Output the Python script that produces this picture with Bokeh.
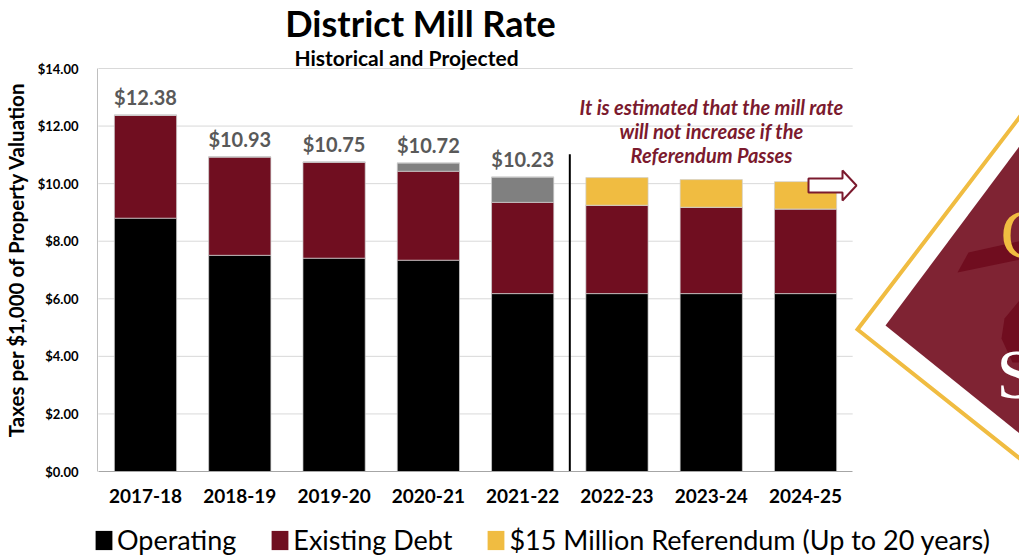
import math
from bokeh.plotting import figure
from bokeh.layouts import column, row
from bokeh.models import (Range1d, FixedTicker, NumeralTickFormatter, Legend, LegendItem,
                          Label, ColumnDataSource)
from bokeh.core.properties import value
from bokeh.embed import file_html
from bokeh.resources import INLINE

# ---------------- data ----------------
categories = ["2017-18", "2018-19", "2019-20", "2020-21", "2021-22",
              "2022-23", "2023-24", "2024-25"]
operating = [8.80, 7.51, 7.41, 7.34, 6.18, 6.18, 6.18, 6.18]
existing_debt = [3.58, 3.42, 3.34, 3.09, 3.17, 3.07, 3.00, 2.94]
other_levy = [0.00, 0.00, 0.00, 0.29, 0.88, 0.00, 0.00, 0.00]   # grey, not in legend
referendum = [0.00, 0.00, 0.00, 0.00, 0.00, 0.96, 0.96, 0.95]
historical_count = 5
labelled_totals = [12.38, 10.93, 10.75, 10.72, 10.23]
y_ticks = [0, 2, 4, 6, 8, 10, 12, 14]
legend_labels = ["Operating", "Existing Debt", "$15 Million Referendum (Up to 20 years)"]
y_title = "Taxes per $1,000 of Property Valuation"

C_OPER = "#000000"
C_DEBT = "#700e20"
C_REF = "#f0bc41"
C_GREY = "#808080"
C_NOTE = "#7b1a2e"
FONT = "Lato"

idx = list(range(len(categories)))
n_cat = len(categories)

STRIP_W = 30          # left strip holding the y-axis title
MAIN_H = 515
LEG_H = 556 - MAIN_H

# main frame: x from page px 97 to 1019, y from px 0 (top) to 471 ($0.00); $14.00 at px 68
Y_TOP = 14 * 471 / (471 - 68)

p = figure(width=1019 - STRIP_W, height=MAIN_H, output_backend="svg",
           toolbar_location=None, title=None,
           x_range=Range1d(-0.509, 9.269), y_range=Range1d(0, Y_TOP),
           min_border_left=97 - STRIP_W, min_border_right=0, min_border_top=0,
           min_border_bottom=MAIN_H - 471,
           background_fill_color="white", border_fill_color="white",
           outline_line_color=None)
# page-pixel helper ranges for decorations
p.extra_x_ranges = {"px": Range1d(97, 1019)}
p.extra_y_ranges = {"px": Range1d(471, 0)}

p.xgrid.visible = False
p.ygrid.visible = False

# horizontal grid lines limited to the category area
p.segment(x0=[-0.5] * (len(y_ticks) - 1), x1=[n_cat - 0.5] * (len(y_ticks) - 1),
          y0=y_ticks[1:], y1=y_ticks[1:], line_color="#d9d9d9", line_width=1,
          level="underlay")

source = ColumnDataSource(dict(x=idx, operating=operating, debt=existing_debt,
                               other=other_levy, referendum=referendum))
rs = p.vbar_stack(["operating", "debt", "other", "referendum"], x="x", width=0.66,
                  color=[C_OPER, C_DEBT, C_GREY, C_REF], line_color="#d0d0d0",
                  line_width=0.7, source=source)

# value labels above historical bars
p.text(x=idx[:historical_count], y=labelled_totals,
       text=[f"${v:.2f}" for v in labelled_totals],
       text_align="center", text_baseline="middle", y_offset=-18,
       text_font=value(FONT), text_font_style="bold", text_font_size="20px",
       text_color="#595959")

# divider between historical and projected
p.segment(x0=[historical_count - 0.5], x1=[historical_count - 0.5], y0=[0], y1=[11.02],
          line_color="black", line_width=2)

# axes
xa = p.xaxis[0]
xa.ticker = FixedTicker(ticks=idx)
xa.major_label_overrides = {i: c for i, c in enumerate(categories)}
xa.bounds = (-0.5, n_cat - 0.5)
xa.major_tick_in = 0
xa.major_tick_out = 0
xa.minor_tick_in = 0
xa.minor_tick_out = 0
xa.axis_line_color = "#a6a6a6"
xa.major_label_standoff = 17
xa.major_label_text_font = FONT
xa.major_label_text_font_style = "bold"
xa.major_label_text_font_size = "19px"
xa.major_label_text_color = "black"

ya = p.yaxis[0]
ya.ticker = FixedTicker(ticks=y_ticks)
ya.formatter = NumeralTickFormatter(format="$0.00")
ya.bounds = (0, 14)
ya.major_tick_in = 0
ya.major_tick_out = 0
ya.minor_tick_in = 0
ya.minor_tick_out = 0
ya.axis_line_color = "#bfbfbf"
ya.major_label_standoff = 19
ya.major_label_text_font = FONT
ya.major_label_text_font_style = "bold"
ya.major_label_text_font_size = "13px"
ya.major_label_text_color = "black"

# titles and note
p.add_layout(Label(x=420, y=22, x_range_name="px", y_range_name="px",
                   text="District Mill Rate", text_align="center", text_baseline="middle",
                   text_font=FONT, text_font_style="bold", text_font_size="36px",
                   text_color="black"))
p.add_layout(Label(x=406, y=57, x_range_name="px", y_range_name="px",
                   text="Historical and Projected", text_align="center",
                   text_baseline="middle", text_font=FONT, text_font_style="bold",
                   text_font_size="21px", text_color="black"))
for txt, yy in [("It is estimated that the mill rate", 106),
                ("will not increase if the", 130),
                ("Referendum Passes", 154)]:
    p.add_layout(Label(x=711, y=yy, x_range_name="px", y_range_name="px", text=txt,
                       text_align="center", text_baseline="middle", text_font=FONT,
                       text_font_style="bold italic", text_font_size="20px",
                       text_color=C_NOTE))

# block arrow
p.patch(x=[808, 842, 842, 856, 842, 842, 808], y=[178, 178, 170, 185, 200, 192, 192],
        x_range_name="px", y_range_name="px", fill_color="white",
        line_color=C_NOTE, line_width=2)

# logo decoration on the right
p.patch(x=[885, 1040, 1040], y=[325, 117.6, 449.8], x_range_name="px", y_range_name="px",
        fill_color="#7f2333", line_color=None)
p.patch(x=[957, 968, 1040, 1040], y=[272, 252, 236, 255], x_range_name="px",
        y_range_name="px", fill_color="#700d1f", line_color=None)
p.patch(x=[1019, 1004, 1001, 1012, 1040, 1040], y=[300, 318, 338, 362, 362, 300],
        x_range_name="px", y_range_name="px", fill_color="#700d1f", line_color=None)
p.line(x=[1040, 857, 1040], y=[89.2, 329, 474.5], x_range_name="px", y_range_name="px",
       line_color=C_REF, line_width=4, line_join="miter")
p.text(x=[1000], y=[234], text=["C"], x_range_name="px", y_range_name="px",
       text_font=value("Liberation Serif"), text_font_size="70px", text_color=C_REF,
       text_baseline="middle", text_align="left")
p.text(x=[996], y=[374], text=["S"], x_range_name="px", y_range_name="px",
       text_font=value("Liberation Serif"), text_font_size="70px", text_color="white",
       text_baseline="middle", text_align="left")

# ---------------- y-axis title strip ----------------
ys = figure(width=STRIP_W, height=MAIN_H, output_backend="svg", toolbar_location=None,
            title=None, x_range=Range1d(0, STRIP_W), y_range=Range1d(0, MAIN_H),
            x_axis_location=None, y_axis_location=None,
            min_border=0, min_border_left=0, min_border_right=0, min_border_top=0,
            min_border_bottom=0, background_fill_color="white",
            border_fill_color="white", outline_line_color=None)
ys.grid.visible = False
ys.add_layout(Label(x=15, y=MAIN_H - 283, text=y_title, angle=math.pi / 2,
                    text_align="center", text_baseline="middle", text_font=FONT,
                    text_font_style="bold", text_font_size="20.5px",
                    text_color="black"))

# ---------------- legend strip ----------------
lg = figure(width=1019, height=LEG_H, output_backend="svg", toolbar_location=None,
            title=None, x_range=Range1d(100, 200), y_range=Range1d(100, 200),
            x_axis_location=None, y_axis_location=None,
            min_border=0, min_border_left=0, min_border_right=0, min_border_top=0,
            min_border_bottom=0, background_fill_color="white",
            border_fill_color="white", outline_line_color=None)
lg.grid.visible = False
# same series drawn outside this strip's visible range: only their legend swatches show
swatches = [lg.vbar(x="x", top=col, width=0.66, source=source, fill_color=c,
                    line_color=None)
            for col, c in (("operating", C_OPER), ("debt", C_DEBT),
                           ("referendum", C_REF))]
legend = Legend(items=[LegendItem(label=t, renderers=[r])
                       for t, r in zip(legend_labels, swatches)],
                location=(93, 0), orientation="horizontal",
                glyph_width=21, glyph_height=24, label_standoff=3, spacing=33,
                padding=0, margin=0, border_line_color=None, background_fill_alpha=0,
                label_text_font=FONT, label_text_font_size="27px",
                label_text_color="black")
lg.add_layout(legend, "center")

layout = column(row(ys, p, spacing=0), lg, spacing=0)
open("out.html", "w").write(file_html(layout, INLINE))
